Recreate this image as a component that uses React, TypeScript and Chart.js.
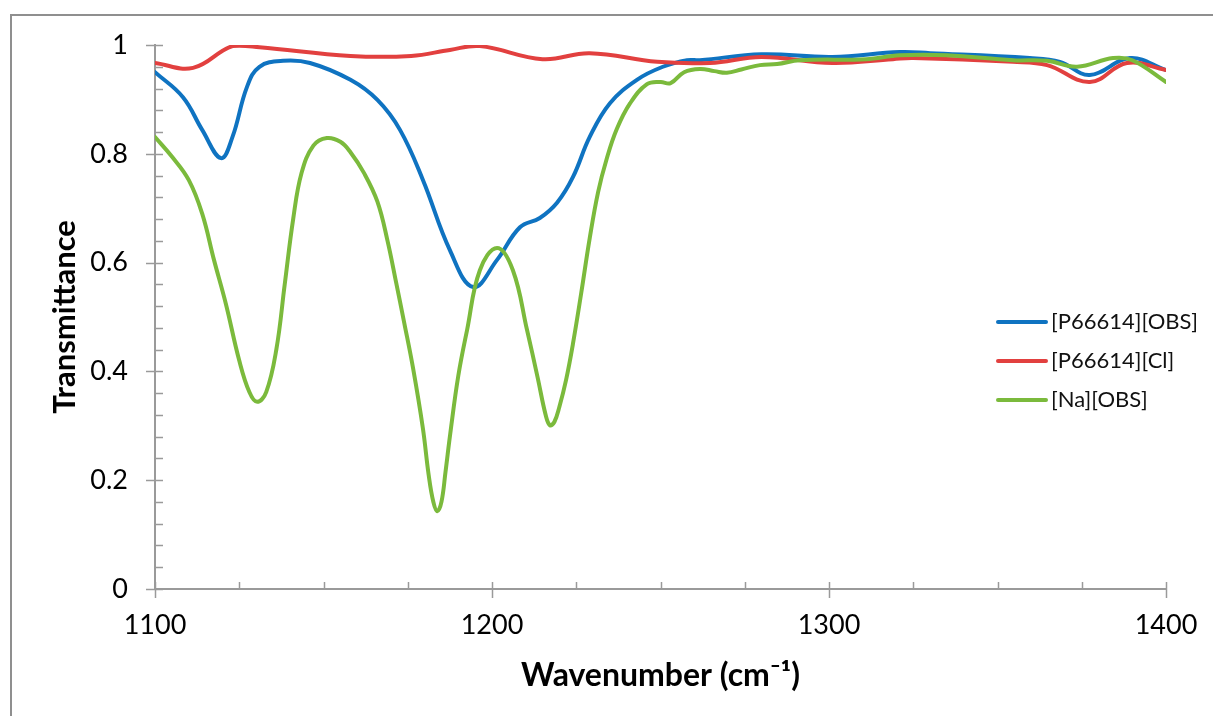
import React, { useEffect, useRef } from "react";
import { Chart, registerables } from "chart.js";

Chart.register(...registerables);

// ---- data ----
const seriesNames = ["[P66614][OBS]", "[P66614][Cl]", "[Na][OBS]"];
const seriesColors = ["#0F73C1", "#E2403F", "#7BBA3C"];

const wnBlue = [1100, 1108.3, 1114, 1119.6, 1123, 1127.3, 1131, 1138, 1146, 1158, 1166, 1172.7, 1179.5, 1187.5, 1194.4, 1201.5, 1208.3, 1214.2, 1219.3, 1224, 1229, 1235, 1243, 1250.7, 1257.9, 1261.7, 1280, 1301, 1321, 1330, 1359.6, 1368.5, 1377.4, 1389.3, 1400];
const tBlue = [0.950, 0.904, 0.844, 0.792, 0.831, 0.923, 0.960, 0.971, 0.967, 0.936, 0.899, 0.844, 0.752, 0.623, 0.555, 0.605, 0.665, 0.682, 0.710, 0.757, 0.831, 0.893, 0.936, 0.960, 0.972, 0.972, 0.983, 0.978, 0.987, 0.985, 0.976, 0.969, 0.945, 0.976, 0.954];

const wnRed = [1100, 1111.3, 1123, 1131, 1158, 1176, 1187.5, 1196.4, 1215, 1229, 1249, 1264.7, 1280, 1301, 1319, 1325, 1354.6, 1364.7, 1377.4, 1388.4, 1400];
const tRed = [0.967, 0.958, 0.998, 0.996, 0.980, 0.980, 0.991, 0.998, 0.974, 0.985, 0.969, 0.967, 0.978, 0.967, 0.974, 0.976, 0.969, 0.963, 0.932, 0.967, 0.954];

const wnGreen = [1100, 1105, 1110, 1114, 1117.5, 1121, 1125, 1128, 1130.3, 1133, 1136, 1138.5, 1141, 1143.5, 1147, 1151, 1155, 1158, 1162, 1166, 1169, 1171.5, 1174, 1176.6, 1179.5, 1181.2, 1182.6, 1183.8, 1185, 1186.2, 1187.6, 1190, 1192.6, 1196.4, 1201.5, 1206.2, 1210.4, 1213.5, 1216, 1217.2, 1218.5, 1220, 1222, 1224, 1226.5, 1229, 1231.5, 1234, 1237, 1241, 1246, 1250, 1253, 1257, 1261.7, 1266, 1269.7, 1274, 1279.5, 1284.6, 1291.4, 1311, 1321, 1335, 1354.6, 1364.7, 1373.6, 1384.3, 1390, 1400];
const tGreen = [0.831, 0.795, 0.752, 0.690, 0.605, 0.525, 0.420, 0.362, 0.344, 0.362, 0.440, 0.560, 0.680, 0.765, 0.815, 0.829, 0.822, 0.803, 0.765, 0.712, 0.640, 0.565, 0.488, 0.405, 0.295, 0.210, 0.160, 0.143, 0.160, 0.215, 0.285, 0.392, 0.476, 0.586, 0.627, 0.586, 0.476, 0.390, 0.318, 0.301, 0.307, 0.335, 0.385, 0.450, 0.545, 0.645, 0.730, 0.790, 0.845, 0.893, 0.928, 0.932, 0.930, 0.950, 0.956, 0.952, 0.949, 0.955, 0.963, 0.965, 0.972, 0.974, 0.981, 0.981, 0.972, 0.971, 0.960, 0.976, 0.972, 0.932];

const xTickValues = [1100, 1200, 1300, 1400];
const yTickValues = [0, 0.2, 0.4, 0.6, 0.8, 1];

const FONT = "Lato, 'Open Sans', sans-serif";
const AXIS_COLOR = "#9a9a9a";

const toPoints = (xs: number[], ys: number[]) => xs.map((x, i) => ({ x, y: ys[i] }));

const decorPlugin = {
  id: "decor",
  beforeDraw(chart: any) {
    const ctx = chart.ctx;
    ctx.save();
    ctx.strokeStyle = "#8f8f8f";
    ctx.lineWidth = 2;
    ctx.beginPath();
    ctx.moveTo(11, 716);
    ctx.lineTo(11, 15);
    ctx.lineTo(1213, 15);
    ctx.stroke();
    ctx.restore();
  },
  afterDatasetsDraw(chart: any) {
    const ctx = chart.ctx;
    const xs = chart.scales.x;
    const ys = chart.scales.y;
    ctx.save();
    ctx.strokeStyle = AXIS_COLOR;
    ctx.lineWidth = 1.5;
    const ax = xs.left;
    for (let i = 0; i <= 25; i++) {
      const v = i * 0.04;
      const py = Math.round(ys.getPixelForValue(v)) + 0.5;
      const major = i % 5 === 0;
      ctx.beginPath();
      ctx.moveTo(major ? ax - 9 : ax, py);
      ctx.lineTo(ax + 8, py);
      ctx.stroke();
    }
    const ay = ys.bottom;
    for (let i = 0; i <= 12; i++) {
      const v = 1100 + i * 25;
      const px = Math.round(xs.getPixelForValue(v)) + 0.5;
      const major = i % 4 === 0;
      ctx.beginPath();
      ctx.moveTo(px, ay - 7);
      ctx.lineTo(px, major ? ay + 9 : ay);
      ctx.stroke();
    }
    ctx.restore();

    // legend
    ctx.save();
    const rowsY = [322, 361, 400];
    chart.data.datasets.forEach((ds: any, i: number) => {
      const y = rowsY[i];
      ctx.strokeStyle = ds.borderColor;
      ctx.lineWidth = 4;
      ctx.lineCap = "round";
      ctx.beginPath();
      ctx.moveTo(998, y);
      ctx.lineTo(1046, y);
      ctx.stroke();
      ctx.fillStyle = "#111";
      ctx.font = `22px ${FONT}`;
      ctx.textBaseline = "middle";
      ctx.textAlign = "left";
      ctx.fillText(ds.label, 1051, y);
    });
    ctx.restore();
  },
};

export default function App() {
  const ref = useRef<HTMLCanvasElement | null>(null);
  useEffect(() => {
    document.body.style.margin = "0";
    const canvas = ref.current!;
    const datasets = [
      { label: seriesNames[0], data: toPoints(wnBlue, tBlue), borderColor: seriesColors[0], order: 2 },
      { label: seriesNames[1], data: toPoints(wnRed, tRed), borderColor: seriesColors[1], order: 1 },
      { label: seriesNames[2], data: toPoints(wnGreen, tGreen), borderColor: seriesColors[2], order: 0 },
    ].map((d) => ({
      ...d,
      backgroundColor: d.borderColor,
      borderWidth: 4,
      pointRadius: 0,
      fill: false,
      tension: 0.4,
      borderCapStyle: "round" as const,
      borderJoinStyle: "round" as const,
    }));
    const chart = new Chart(canvas, {
      type: "line",
      data: { datasets },
      options: {
        animation: false,
        responsive: false,
        maintainAspectRatio: false,
        layout: { padding: { left: 0, right: 47, top: 45, bottom: 0 } },
        plugins: { legend: { display: false }, tooltip: { enabled: false } },
        scales: {
          x: {
            type: "linear",
            min: 1100,
            max: 1400,
            afterBuildTicks: (s: any) => {
              s.ticks = xTickValues.map((v) => ({ value: v }));
            },
            afterFit: (s: any) => {
              s.height = 127;
              s.paddingLeft = 0;
              s.paddingRight = 0;
            },
            grid: { display: true, drawOnChartArea: false, drawTicks: false },
            border: { display: true, color: AXIS_COLOR, width: 2 },
            ticks: {
              color: "#000",
              font: { family: FONT, size: 27 },
              padding: 20,
              maxRotation: 0,
              callback: (v: any) => String(v),
            },
            title: {
              display: true,
              text: "Wavenumber (cm⁻¹)",
              color: "#000",
              font: { family: FONT, size: 32, weight: "bold" },
              padding: { top: 0, bottom: 21 },
            },
          },
          y: {
            type: "linear",
            min: 0,
            max: 1,
            afterBuildTicks: (s: any) => {
              s.ticks = yTickValues.map((v) => ({ value: v }));
            },
            afterFit: (s: any) => {
              s.width = 155;
            },
            grid: { display: true, drawOnChartArea: false, drawTicks: false },
            border: { display: true, color: AXIS_COLOR, width: 2 },
            ticks: {
              color: "#000",
              font: { family: FONT, size: 27 },
              padding: 27,
              callback: (v: any) => String(Math.round(Number(v) * 10) / 10),
            },
            title: {
              display: true,
              text: "Transmittance",
              color: "#000",
              font: { family: FONT, size: 31, weight: "bold" },
              padding: { top: 46, bottom: 0 },
            },
          },
        },
      },
      plugins: [decorPlugin],
    });
    return () => chart.destroy();
  }, []);
  return <canvas ref={ref} width={1213} height={716} style={{ display: "block" }} />;
}
